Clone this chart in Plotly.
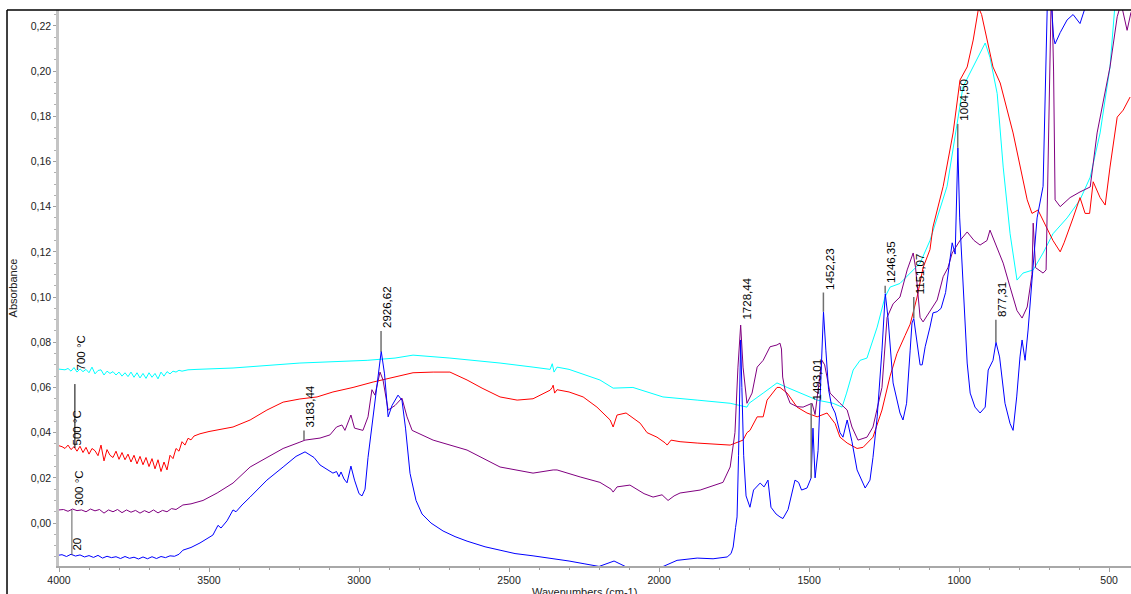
import plotly.graph_objects as go

# ---------------- data (wavenumber cm-1, absorbance) ----------------
wn_20 = [4000, 3990, 3975, 3960, 3945, 3930, 3915, 3900, 3885, 3870, 3855, 3840, 3825, 3810, 3795,
         3780, 3765, 3750, 3735, 3720, 3705, 3690, 3675, 3660, 3645, 3630, 3615, 3600, 3587, 3560,
         3530, 3500, 3487, 3470, 3460, 3440, 3420, 3410, 3390, 3363, 3307, 3253, 3210, 3180, 3150,
         3130, 3100, 3087, 3075, 3067, 3060, 3050, 3040, 3027, 3015, 3000, 2990, 2980, 2970, 2955,
         2945, 2935, 2926, 2915, 2903, 2890, 2870, 2857, 2845, 2830, 2810, 2790, 2760, 2720, 2680,
         2640, 2580, 2530, 2480, 2420, 2360, 2300, 2250, 2200, 2150, 2100, 2050, 2000, 1940, 1900,
         1873, 1820, 1790, 1773, 1760, 1753, 1745, 1740, 1735, 1731, 1728, 1724, 1718, 1710, 1697,
         1685, 1663, 1650, 1637, 1627, 1610, 1597, 1587, 1570, 1547, 1535, 1525, 1507, 1497, 1493,
         1487, 1480, 1470, 1460, 1452, 1444, 1435, 1425, 1413, 1397, 1387, 1373, 1357, 1340, 1313,
         1297, 1287, 1273, 1257, 1246, 1237, 1220, 1197, 1187, 1175, 1163, 1157, 1151, 1143, 1130,
         1123, 1113, 1097, 1087, 1073, 1060, 1045, 1037, 1023, 1013, 1008, 1004, 998, 987, 973,
         963, 947, 930, 913, 903, 887, 877, 865, 847, 830, 820, 808, 797, 790, 780,
         770, 757, 745, 740, 720, 712, 705, 695, 685, 680, 663, 640, 620, 597, 575,
         550, 520, 490, 460, 427]
ab_20 = [-0.0142, -0.0140, -0.0148, -0.0138, -0.0146, -0.0141, -0.0150, -0.0144, -0.0152, -0.0143, -0.0155, -0.0147, -0.0153, -0.0149, -0.0157,
         -0.0148, -0.0156, -0.0151, -0.0159, -0.0150, -0.0158, -0.0149, -0.0157, -0.0148, -0.0153, -0.0145, -0.0147, -0.0138, -0.0120, -0.0108,
         -0.0088, -0.0065, -0.0053, -0.0010, -0.0022, 0.0010, 0.0058, 0.0050, 0.0080, 0.0115, 0.0190, 0.0248, 0.0295, 0.0315, 0.0290,
         0.0257, 0.0232, 0.0221, 0.0228, 0.0205, 0.0226, 0.0195, 0.0178, 0.0252, 0.0190, 0.0130, 0.0120, 0.0150, 0.0290, 0.0450,
         0.0540, 0.0660, 0.0760, 0.0660, 0.0470, 0.0520, 0.0566, 0.0544, 0.0420, 0.0220, 0.0100, 0.0040, 0.0000, -0.0035, -0.0060,
         -0.0080, -0.0105, -0.0120, -0.0135, -0.0145, -0.0155, -0.0168, -0.0180, -0.0192, -0.0168, -0.0200, -0.0205, -0.0200, -0.0165, -0.0160,
         -0.0155, -0.0158, -0.0152, -0.0150, -0.0135, -0.0106, -0.0020, 0.0027, 0.0300, 0.0650, 0.0810, 0.0600, 0.0300, 0.0120, 0.0070,
         0.0146, 0.0177, 0.0160, 0.0190, 0.0070, 0.0040, 0.0027, 0.0020, 0.0060, 0.0190, 0.0180, 0.0146, 0.0155, 0.0190, 0.0200,
         0.0420, 0.0200, 0.0320, 0.0650, 0.0935, 0.0765, 0.0590, 0.0520, 0.0487, 0.0400, 0.0380, 0.0456, 0.0360, 0.0235, 0.0155,
         0.0190, 0.0290, 0.0470, 0.0765, 0.1015, 0.0910, 0.0620, 0.0487, 0.0456, 0.0530, 0.0765, 0.0885, 0.0905, 0.0820, 0.0700,
         0.0700, 0.0780, 0.0867, 0.0930, 0.0935, 0.0950, 0.1020, 0.1106, 0.1240, 0.1190, 0.1500, 0.1660, 0.1350, 0.1075, 0.0708,
         0.0575, 0.0513, 0.0487, 0.0513, 0.0677, 0.0720, 0.0800, 0.0735, 0.0530, 0.0440, 0.0410, 0.0558, 0.0735, 0.0810, 0.0720,
         0.0854, 0.1075, 0.1300, 0.1350, 0.1490, 0.2000, 0.2350, 0.2350, 0.2150, 0.2120, 0.2170, 0.2226, 0.2250, 0.2210, 0.2300,
         0.2350, 0.2380, 0.2400, 0.2400, 0.2400]

wn_300 = [4000, 3985, 3970, 3955, 3940, 3925, 3910, 3895, 3880, 3865, 3850, 3835, 3820, 3805, 3790,
          3775, 3760, 3745, 3730, 3715, 3700, 3685, 3670, 3655, 3640, 3625, 3610, 3587, 3560, 3520,
          3473, 3420, 3363, 3307, 3253, 3197, 3180, 3130, 3097, 3075, 3057, 3047, 3027, 3015, 2987,
          2970, 2957, 2947, 2930, 2920, 2903, 2880, 2857, 2840, 2823, 2753, 2640, 2530, 2420, 2353,
          2340, 2263, 2197, 2160, 2153, 2140, 2097, 2050, 2020, 1990, 1970, 1950, 1930, 1863, 1787,
          1763, 1747, 1737, 1728, 1720, 1707, 1690, 1673, 1653, 1630, 1607, 1597, 1592, 1588, 1580,
          1563, 1540, 1520, 1490, 1480, 1470, 1457, 1448, 1430, 1397, 1373, 1357, 1337, 1307, 1287,
          1257, 1240, 1220, 1197, 1173, 1157, 1153, 1145, 1130, 1120, 1097, 1073, 1053, 1037, 1023,
          997, 973, 950, 930, 907, 897, 880, 853, 830, 807, 790, 773, 757, 753, 745,
          720, 710, 700, 692, 685, 680, 663, 630, 597, 563, 540, 520, 497, 473, 460,
          440, 427]
ab_300 = [0.0058, 0.0060, 0.0052, 0.0062, 0.0055, 0.0058, 0.0050, 0.0062, 0.0054, 0.0060, 0.0044, 0.0058, 0.0050, 0.0060, 0.0046,
          0.0058, 0.0048, 0.0056, 0.0044, 0.0055, 0.0046, 0.0058, 0.0045, 0.0056, 0.0050, 0.0064, 0.0060, 0.0080, 0.0085, 0.0100,
          0.0133, 0.0177, 0.0248, 0.0290, 0.0330, 0.0358, 0.0367, 0.0376, 0.0390, 0.0425, 0.0434, 0.0410, 0.0478, 0.0420, 0.0410,
          0.0470, 0.0590, 0.0566, 0.0668, 0.0633, 0.0500, 0.0520, 0.0553, 0.0470, 0.0410, 0.0367, 0.0323, 0.0248, 0.0221, 0.0235,
          0.0235, 0.0204, 0.0180, 0.0150, 0.0137, 0.0160, 0.0168, 0.0130, 0.0115, 0.0125, 0.0100, 0.0120, 0.0133, 0.0146, 0.0180,
          0.0248, 0.0400, 0.0690, 0.0876, 0.0690, 0.0530, 0.0575, 0.0690, 0.0720, 0.0780, 0.0788, 0.0796, 0.0770, 0.0646, 0.0588,
          0.0530, 0.0515, 0.0513, 0.0530, 0.0480, 0.0588, 0.0720, 0.0700, 0.0575, 0.0530, 0.0500, 0.0425, 0.0367, 0.0380, 0.0425,
          0.0600, 0.0910, 0.0970, 0.1000, 0.1120, 0.1186, 0.1195, 0.1130, 0.0910, 0.0890, 0.0940, 0.0987, 0.1090, 0.1130, 0.1195,
          0.1250, 0.1288, 0.1250, 0.1230, 0.1250, 0.1296, 0.1240, 0.1150, 0.1044, 0.0940, 0.0907, 0.0956, 0.1100, 0.1327, 0.1130,
          0.1106, 0.1120, 0.2000, 0.2400, 0.2000, 0.1430, 0.1400, 0.1440, 0.1465, 0.1487, 0.1726, 0.1870, 0.2018, 0.2240, 0.2300,
          0.2180, 0.2260]

wn_500 = [4000, 3990, 3980, 3970, 3960, 3950, 3940, 3930, 3920, 3910, 3900, 3890, 3880, 3870, 3860,
          3850, 3840, 3830, 3820, 3810, 3800, 3790, 3780, 3770, 3760, 3750, 3740, 3730, 3720, 3710,
          3700, 3690, 3680, 3670, 3660, 3650, 3640, 3630, 3620, 3610, 3600, 3590, 3580, 3570, 3560,
          3550, 3530, 3500, 3420, 3363, 3307, 3253, 3197, 3140, 3087, 3020, 2953, 2863, 2820, 2753,
          2697, 2640, 2590, 2530, 2473, 2420, 2363, 2356, 2353, 2348, 2340, 2300, 2253, 2207, 2163,
          2153, 2140, 2110, 2063, 2040, 2007, 1980, 1973, 1960, 1930, 1873, 1820, 1763, 1720, 1707,
          1697, 1673, 1653, 1640, 1607, 1597, 1573, 1540, 1507, 1473, 1440, 1413, 1397, 1373, 1340,
          1320, 1287, 1257, 1230, 1207, 1180, 1163, 1140, 1120, 1097, 1087, 1053, 1020, 997, 973,
          953, 940, 935, 925, 907, 887, 863, 820, 773, 757, 737, 720, 687, 663, 650,
          620, 597, 580, 565, 553, 530, 513, 497, 473, 453, 430]
ab_500 = [0.0342, 0.0338, 0.0330, 0.0345, 0.0325, 0.0338, 0.0318, 0.0340, 0.0312, 0.0335, 0.0305, 0.0330, 0.0320, 0.0298, 0.0345,
          0.0275, 0.0325, 0.0300, 0.0290, 0.0318, 0.0282, 0.0312, 0.0280, 0.0305, 0.0270, 0.0300, 0.0262, 0.0295, 0.0258, 0.0290,
          0.0250, 0.0285, 0.0240, 0.0280, 0.0228, 0.0270, 0.0235, 0.0300, 0.0285, 0.0330, 0.0318, 0.0360, 0.0345, 0.0375, 0.0368,
          0.0385, 0.0395, 0.0405, 0.0425, 0.0456, 0.0500, 0.0535, 0.0549, 0.0558, 0.0580, 0.0600, 0.0624, 0.0650, 0.0665, 0.0668,
          0.0668, 0.0633, 0.0597, 0.0558, 0.0544, 0.0550, 0.0588, 0.0600, 0.0610, 0.0575, 0.0590, 0.0580, 0.0558, 0.0513, 0.0456,
          0.0425, 0.0478, 0.0487, 0.0442, 0.0400, 0.0380, 0.0355, 0.0345, 0.0367, 0.0360, 0.0354, 0.0350, 0.0345, 0.0367, 0.0400,
          0.0410, 0.0470, 0.0470, 0.0544, 0.0600, 0.0600, 0.0575, 0.0513, 0.0487, 0.0470, 0.0487, 0.0440, 0.0380, 0.0354, 0.0330,
          0.0335, 0.0380, 0.0500, 0.0650, 0.0750, 0.0830, 0.0880, 0.1000, 0.1130, 0.1210, 0.1310, 0.1490, 0.1726, 0.1960, 0.2018,
          0.2137, 0.2257, 0.2280, 0.2250, 0.2137, 0.2018, 0.1947, 0.1726, 0.1430, 0.1370, 0.1385, 0.1340, 0.1250, 0.1200, 0.1240,
          0.1350, 0.1440, 0.1370, 0.1370, 0.1510, 0.1440, 0.1407, 0.1575, 0.1796, 0.1827, 0.1885]

wn_700 = [4000, 3990, 3980, 3970, 3960, 3950, 3940, 3930, 3920, 3910, 3900, 3890, 3880, 3870, 3860,
          3850, 3840, 3830, 3820, 3810, 3800, 3790, 3780, 3770, 3760, 3750, 3740, 3730, 3720, 3710,
          3700, 3690, 3680, 3670, 3660, 3650, 3640, 3630, 3620, 3610, 3600, 3590, 3570, 3540, 3420,
          3197, 2973, 2880, 2820, 2697, 2530, 2420, 2363, 2356, 2350, 2340, 2300, 2197, 2153, 2087,
          1987, 1873, 1763, 1707, 1700, 1653, 1607, 1573, 1530, 1473, 1420, 1390, 1375, 1353, 1330,
          1307, 1273, 1247, 1230, 1197, 1163, 1130, 1097, 1040, 987, 953, 913, 897, 873, 853,
          830, 807, 787, 753, 720, 687, 640, 597, 563, 530, 497, 480, 427]
ab_700 = [0.0681, 0.0680, 0.0678, 0.0684, 0.0672, 0.0688, 0.0668, 0.0682, 0.0670, 0.0680, 0.0665, 0.0690, 0.0660, 0.0675, 0.0678,
          0.0655, 0.0672, 0.0662, 0.0670, 0.0655, 0.0668, 0.0650, 0.0665, 0.0648, 0.0668, 0.0645, 0.0665, 0.0642, 0.0662, 0.0640,
          0.0665, 0.0645, 0.0662, 0.0638, 0.0668, 0.0650, 0.0670, 0.0660, 0.0672, 0.0668, 0.0676, 0.0672, 0.0678, 0.0680, 0.0686,
          0.0708, 0.0720, 0.0730, 0.0743, 0.0730, 0.0708, 0.0690, 0.0680, 0.0705, 0.0668, 0.0690, 0.0680, 0.0633, 0.0597, 0.0600,
          0.0558, 0.0544, 0.0530, 0.0513, 0.0530, 0.0575, 0.0620, 0.0600, 0.0575, 0.0544, 0.0530, 0.0513, 0.0575, 0.0677, 0.0720,
          0.0730, 0.0867, 0.1000, 0.1044, 0.1060, 0.1106, 0.1150, 0.1250, 0.1490, 0.1930, 0.2018, 0.2124, 0.2060, 0.1900, 0.1575,
          0.1280, 0.1075, 0.1106, 0.1120, 0.1195, 0.1280, 0.1350, 0.1430, 0.1530, 0.1726, 0.2018, 0.2300, 0.2400]

series_names = ["700 °C", "500 °C", "300 °C", "20"]
series_colors = ["#00FFFF", "#FF0000", "#800080", "#0000FF"]

peak_labels = ["3183,44", "2926,62", "1728,44", "1493,01", "1452,23", "1246,35", "1151,07", "1004,50", "877,31"]
peak_wn = [3183.44, 2926.62, 1728.44, 1493.01, 1452.23, 1246.35, 1151.07, 1004.50, 877.31]
peak_y0 = [0.0367, 0.0758, 0.0885, 0.0200, 0.0935, 0.1018, 0.0907, 0.1660, 0.0800]
peak_y1 = [0.0410, 0.0850, 0.0885, 0.0530, 0.1020, 0.1050, 0.1000, 0.1766, 0.0900]

name_x = [3927, 3940, 3933, 3940]
name_y = [0.0668, 0.0332, 0.0066, -0.0133]

y_ticks = [0.00, 0.02, 0.04, 0.06, 0.08, 0.10, 0.12, 0.14, 0.16, 0.18, 0.20, 0.22]
y_ticktext = ["0,00", "0,02", "0,04", "0,06", "0,08", "0,10", "0,12", "0,14", "0,16", "0,18", "0,20", "0,22"]
x_ticks = [4000, 3500, 3000, 2500, 2000, 1500, 1000, 500]
x_ticktext = ["4000", "3500", "3000", "2500", "2000", "1500", "1000", "500"]

# ---------------- figure ----------------
fig = go.Figure()
all_x = [wn_700, wn_500, wn_300, wn_20]
all_y = [ab_700, ab_500, ab_300, ab_20]
for nm, col, xs, ys in zip(series_names, series_colors, all_x, all_y):
    fig.add_trace(go.Scatter(x=xs, y=ys, mode="lines", name=nm,
                             line=dict(color=col, width=1), hoverinfo="skip"))

FONT = "Liberation Sans, Arial, sans-serif"
annotations = []
shapes = []

# peak markers
for lab, xw, y0, y1 in zip(peak_labels, peak_wn, peak_y0, peak_y1):
    if y1 > y0:
        shapes.append(dict(type="line", xref="x", yref="y", x0=xw, x1=xw, y0=y0, y1=y1,
                           line=dict(color="#707070", width=1.5)))
    annotations.append(dict(x=xw, y=y1, xref="x", yref="y", text=lab, showarrow=False,
                            textangle=-90, xanchor="center", yanchor="bottom", xshift=6, yshift=1,
                            font=dict(family=FONT, size=11.5, color="#000000")))

# series name labels
for nm, xv, yv in zip(series_names, name_x, name_y):
    annotations.append(dict(x=xv, y=yv, xref="x", yref="y", text=nm, showarrow=False,
                            textangle=-90, xanchor="center", yanchor="bottom",
                            font=dict(family=FONT, size=11.5, color="#000000")))
shapes.append(dict(type="line", xref="x", yref="y", x0=3947, x1=3947, y0=ab_500[0] - 0.001, y1=0.0615,
                   line=dict(color="#000000", width=1)))
shapes.append(dict(type="line", xref="x", yref="y", x0=3957, x1=3957, y0=ab_20[0], y1=ab_300[0],
                   line=dict(color="#606060", width=1)))

# outer frame
shapes.append(dict(type="line", xref="paper", yref="paper", x0=-0.0485, x1=1.02, y0=1, y1=1,
                   line=dict(color="#000000", width=1.5)))
shapes.append(dict(type="line", xref="paper", yref="paper", x0=-0.0485, x1=-0.0485, y0=-0.1, y1=1,
                   line=dict(color="#000000", width=1.5)))

# axis titles
annotations.append(dict(x=-0.0425, y=0.5, xref="paper", yref="paper", text="Absorbance",
                        showarrow=False, textangle=-90, xanchor="center", yanchor="middle",
                        font=dict(family=FONT, size=11, color="#222222")))
annotations.append(dict(x=0.49, y=0, xref="paper", yref="paper", text="Wavenumbers (cm-1)",
                        showarrow=False, xanchor="center", yanchor="top", yshift=-18,
                        font=dict(family=FONT, size=11, color="#222222")))

fig.update_layout(
    width=1131, height=594,
    margin=dict(l=59, r=0, t=10, b=28),
    paper_bgcolor="white", plot_bgcolor="white",
    showlegend=False,
    font=dict(family=FONT, size=10, color="#222222"),
    annotations=annotations, shapes=shapes,
)
fig.update_xaxes(range=[4000, 427], showgrid=False, zeroline=False,
                 showline=True, linecolor="#a8a8a8", linewidth=1.5,
                 tickmode="array", tickvals=x_ticks, ticktext=x_ticktext,
                 ticks="outside", ticklen=4, tickcolor="#a0a0a0",
                 minor=dict(dtick=100, ticks="outside", ticklen=2, tickcolor="#a0a0a0"),
                 tickfont=dict(family=FONT, size=10.5, color="#222222"))
fig.update_yaxes(range=[-0.019, 0.227], showgrid=False, zeroline=False,
                 showline=True, linecolor="#c4c4c4", linewidth=2.5,
                 tickmode="array", tickvals=y_ticks, ticktext=y_ticktext,
                 ticks="outside", ticklen=3, tickcolor="#a0a0a0",
                 minor=dict(dtick=0.005, tick0=0, ticks="outside", ticklen=2, tickcolor="#b0b0b0"),
                 tickfont=dict(family=FONT, size=10.5, color="#222222"))

fig.write_html("out.html", config={"displayModeBar": False},
               post_script="document.body.style.margin='0px';document.body.style.overflow='hidden';")
